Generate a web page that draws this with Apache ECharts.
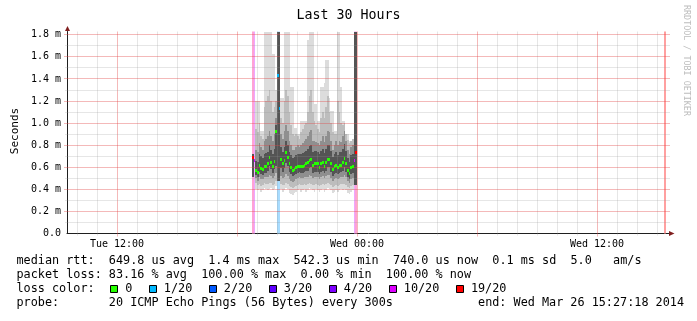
<!DOCTYPE html>
<html><head><meta charset="utf-8">
<script src="https://cdn.jsdelivr.net/npm/echarts@6/dist/echarts.min.js"></script>
<style>html,body{margin:0;padding:0;background:#fff}#c{width:697px;height:321px}</style>
</head><body><div id="c"></div>
<script>
// ---------------- data ----------------
const titleText = 'Last 30 Hours';
const yAxisName = 'Seconds';
const sideText = 'RRDTOOL / TOBI OETIKER';
const xLabelHours = [12, 24, 36];
const xLabelTexts = ['Tue 12:00', 'Wed 00:00', 'Wed 12:00'];
const yTickValues = [0, 0.2, 0.4, 0.6, 0.8, 1.0, 1.2, 1.4, 1.6, 1.8];
const yMinorValues = [0.1, 0.3, 0.5, 0.7, 0.9, 1.1, 1.3, 1.5, 1.7];
const xMajorHours = [12, 18, 24, 30, 36];
const xMinorHours = [10, 11, 13, 14, 15, 16, 17, 19, 20, 21, 22, 23, 25, 26, 27, 28, 29, 31, 32, 33, 34, 35, 37, 38, 39];

// sample end times (minutes since Tue 00:00), 5-minute steps, plus the last (100% loss) sample
const sampleEndMinutes = [];
for (let m = 1130; m <= 1440; m += 5) sampleEndMinutes.push(m);
sampleEndMinutes.push(2366);

// median rtt (ms)
const median = [
 0.69,0.66,0.57,0.55,0.62,0.59,0.58,0.61,0.61,0.63,
 0.69,0.64,0.61,0.65,0.92,1.43,1.13,0.67,0.63,0.66,
 0.73,0.69,0.63,0.60,0.57,0.58,0.60,0.61,0.61,0.61,
 0.61,0.62,0.63,0.64,0.66,0.67,0.62,0.63,0.63,0.63,
 0.60,0.63,0.64,0.61,0.64,0.67,0.67,0.63,0.58,0.61,
 0.62,0.60,0.62,0.62,0.64,0.68,0.63,0.57,0.54,0.60,
 0.61,0.66,0.73, null];
// lost pings out of 20
const loss = [
 19,10,0,0,0,0,0,0,0,0,
 0,0,0,0,0,1,1,0,0,0,
 0,0,0,0,0,0,0,0,0,0,
 0,0,0,0,0,0,0,0,0,0,
 0,0,0,0,0,0,0,0,0,0,
 0,0,0,0,0,0,0,0,0,0,
 0,10,19, 20];
// smoke: ping distribution bands (ms)
const smokeMin = [
 null,null,0.40,0.39,0.40,0.38,0.39,0.41,0.40,0.39,
 0.40,0.41,0.39,0.40,0.43,0.48,0.48,0.40,0.38,0.39,
 0.41,0.40,0.37,0.36,0.35,0.37,0.38,0.39,0.40,0.38,
 0.39,0.40,0.38,0.39,0.41,0.40,0.39,0.38,0.40,0.39,
 0.38,0.39,0.40,0.38,0.39,0.41,0.40,0.39,0.37,0.38,
 0.39,0.38,0.39,0.40,0.39,0.40,0.39,0.37,0.36,0.38,
 0.39,0.44,0.44, null];
const smokeLow2 = [
 null,null,0.46,0.44,0.45,0.43,0.44,0.46,0.45,0.45,
 0.46,0.46,0.44,0.45,0.48,0.48,0.48,0.45,0.44,0.44,
 0.46,0.45,0.43,0.42,0.41,0.42,0.43,0.44,0.45,0.44,
 0.44,0.45,0.44,0.45,0.46,0.45,0.44,0.44,0.45,0.44,
 0.43,0.44,0.45,0.44,0.45,0.46,0.45,0.44,0.42,0.43,
 0.44,0.43,0.44,0.45,0.45,0.45,0.44,0.42,0.41,0.43,
 0.44,0.44,0.44, null];
const smokeLow4 = [
 null,null,0.50,0.48,0.51,0.49,0.49,0.51,0.51,0.51,
 0.53,0.52,0.50,0.52,0.55,0.48,0.48,0.52,0.50,0.51,
 0.54,0.52,0.49,0.48,0.47,0.48,0.49,0.50,0.51,0.50,
 0.50,0.51,0.51,0.51,0.53,0.52,0.50,0.51,0.51,0.51,
 0.49,0.51,0.52,0.50,0.52,0.53,0.53,0.50,0.48,0.49,
 0.50,0.49,0.50,0.51,0.51,0.53,0.51,0.48,0.46,0.49,
 0.50,0.44,0.44, null];
const coreLow = [
 0.51,null,0.53,0.51,0.56,0.54,0.53,0.55,0.55,0.57,
 0.61,0.58,0.55,0.58,0.61,0.48,0.48,0.59,0.56,0.59,
 0.64,0.61,0.56,0.54,0.52,0.53,0.54,0.55,0.56,0.55,
 0.55,0.56,0.57,0.57,0.59,0.60,0.55,0.56,0.56,0.56,
 0.54,0.56,0.57,0.55,0.57,0.60,0.60,0.56,0.52,0.54,
 0.55,0.54,0.55,0.56,0.57,0.60,0.56,0.51,0.49,0.54,
 0.55,0.44,0.44, null];
const coreHigh = [
 0.72,null,0.66,0.65,0.72,0.70,0.68,0.72,0.73,0.74,
 0.80,0.76,0.72,0.77,0.98,2.50,2.50,0.78,0.74,0.78,
 0.84,0.80,0.74,0.71,0.68,0.69,0.71,0.72,0.72,0.72,
 0.73,0.74,0.75,0.77,0.79,0.80,0.74,0.75,0.75,0.74,
 0.72,0.75,0.77,0.73,0.77,0.80,0.80,0.75,0.69,0.72,
 0.74,0.71,0.74,0.74,0.77,0.81,0.75,0.68,0.65,0.71,
 0.72,2.50,2.50, null];
const smokeHigh17 = [
 null,null,0.76,0.74,0.82,0.78,0.76,0.84,0.86,0.88,
 0.93,0.88,0.84,0.90,1.05,2.50,2.50,0.90,0.86,0.93,
 0.98,0.93,0.84,0.80,0.76,0.76,0.78,0.80,0.78,0.80,
 0.82,0.84,0.86,0.88,0.92,0.94,0.84,0.84,0.83,0.82,
 0.80,0.84,0.88,0.83,0.88,0.93,0.92,0.84,0.76,0.80,
 0.84,0.80,0.84,0.83,0.88,0.93,0.84,0.76,0.72,0.78,
 0.80,2.50,2.50, null];
const smokeHigh19 = [
 null,null,0.95,0.92,1.00,0.88,0.86,1.15,1.20,1.25,
 1.30,1.20,1.10,1.15,1.20,2.50,2.50,1.05,1.00,1.20,
 1.30,1.25,1.10,0.98,0.90,0.88,0.90,0.88,0.86,0.92,
 0.95,0.98,1.00,1.10,1.25,1.30,1.10,1.02,0.98,0.95,
 0.92,1.05,1.10,1.05,1.15,1.25,1.10,1.00,0.92,0.90,
 0.90,1.20,1.10,1.00,0.98,1.00,0.90,0.85,0.82,0.84,
 0.86,2.50,2.50, null];
const smokeMax = [
 null,null,1.20,1.20,1.20,0.93,0.93,1.90,1.90,1.90,
 1.90,1.90,1.63,1.63,1.30,2.50,2.50,1.23,1.23,1.90,
 1.90,1.90,1.90,1.33,1.33,0.96,0.96,0.90,0.90,1.02,
 1.02,1.02,1.02,1.75,1.90,1.90,1.90,1.17,1.17,1.02,
 1.02,1.33,1.33,1.36,1.57,1.57,1.23,1.11,1.11,0.93,
 0.93,1.90,1.90,1.33,1.02,1.02,0.90,0.90,0.84,0.84,
 0.84,2.50,2.50, null];

const lossThresholds = [0, 1, 2, 3, 4, 10, 19];
const lossLabels = ['0', '1/20', '2/20', '3/20', '4/20', '10/20', '19/20'];
const lossColors = ['#26ff00', '#00b8ff', '#0059ff', '#5e00ff', '#7e00ff', '#dd00ff', '#ff0000'];

const statLines = [
  'median rtt:  649.8 us avg  1.4 ms max  542.3 us min  740.0 us now  0.1 ms sd  5.0   am/s',
  'packet loss: 83.16 % avg  100.00 % max  0.00 % min  100.00 % now'
];
const lossRowLabel = 'loss color:';
const probeLine = 'probe:       20 ICMP Echo Pings (56 Bytes) every 300s';
const endLine = 'end: Wed Mar 26 15:27:18 2014';

// ---------------- styling / layout ----------------
const MONO = '"DejaVu Sans Mono", "Liberation Mono", monospace';
const X_MIN = 9.5, X_MAX = 39.65, Y_MAX = 1.83;
const STEP_H = 5 / 60;
const lossBgColors = [null, '#a8dcff', '#a8c4ff', '#c0a8ff', '#cca8ff', '#eca8ff', '#ffa2d6'];
const fullLossBg = '#ffa0a0';
const bandColors = ['#dcdcdc', '#bdbdbd', '#8f8f8f', '#545454'];
const MAJOR = 'rgba(226,70,70,0.38)';
const MINOR = 'rgba(150,150,150,0.24)';

const sampleHours = sampleEndMinutes.map(m => m / 60);
function lossIdx(l) { let k = 0; lossThresholds.forEach((t, j) => { if (l >= t) k = j; }); return k; }

const idxData = sampleHours.map((h, i) => [h, i]);

function lossRender(params, api) {
  const i = api.value(1);
  const l = loss[i];
  if (!l) return null;
  const col = l >= 20 ? fullLossBg : lossBgColors[lossIdx(l)];
  const a = api.coord([sampleHours[i] - STEP_H, Y_MAX]);
  const b = api.coord([sampleHours[i], 0]);
  const x0 = Math.round(a[0]), x1 = Math.round(b[0]);
  return { type: 'rect', shape: { x: x0, y: a[1], width: Math.max(1, x1 - x0), height: b[1] - a[1] }, style: { fill: col } };
}
function smokeRender(params, api) {
  const i = api.value(1);
  const bands = [[smokeMin, smokeMax], [smokeLow2, smokeHigh19], [smokeLow4, smokeHigh17], [coreLow, coreHigh]];
  const children = [];
  bands.forEach((bd, k) => {
    const lo = bd[0][i], hi = bd[1][i];
    if (lo == null || hi == null) return;
    const a = api.coord([sampleHours[i] - STEP_H, Math.min(hi, Y_MAX)]);
    const b = api.coord([sampleHours[i], lo]);
    const x0 = Math.round(a[0]), x1 = Math.round(b[0]);
    const y0 = Math.round(a[1]), y1 = Math.round(b[1]);
    children.push({ type: 'rect', shape: { x: x0, y: y0, width: Math.max(1, x1 - x0), height: y1 - y0 }, style: { fill: bandColors[k] } });
  });
  return { type: 'group', children };
}
function medianRender(params, api) {
  const i = api.value(1);
  const v = median[i];
  if (v == null) return null;
  const a = api.coord([sampleHours[i] - STEP_H, v]);
  const b = api.coord([sampleHours[i], v]);
  const x0 = Math.round(a[0]), x1 = Math.round(b[0]);
  return { type: 'rect', shape: { x: x0, y: Math.round(a[1] - 1.5), width: Math.max(1, x1 - x0), height: 3 },
    style: { fill: lossColors[lossIdx(loss[i])] } };
}
const gridData = [].concat(
  xMinorHours.map(h => [h, 0]), xMajorHours.map(h => [h, 1]),
  yMinorValues.map(v => [v, 2]), yTickValues.filter(v => v > 0).map(v => [v, 3]));
function gridRender(params, api) {
  const v = api.value(0), kind = api.value(1);
  const cs = params.coordSys;
  const major = kind === 1 || kind === 3;
  const col = major ? MAJOR : MINOR;
  const ext = major ? 3 : 2;
  if (kind < 2) {
    const x = Math.floor(api.coord([v, 0])[0]) + 0.5;
    return { type: 'line', shape: { x1: x, y1: cs.y, x2: x, y2: cs.y + cs.height + ext }, style: { stroke: col, lineWidth: 1 } };
  }
  const y = Math.floor(api.coord([X_MIN, v])[1]) + 0.5;
  return { type: 'line', shape: { x1: cs.x - ext, y1: y, x2: cs.x + cs.width, y2: y }, style: { stroke: col, lineWidth: 1 } };
}

const chart = echarts.init(document.getElementById('c'), null, { renderer: 'canvas', width: 697, height: 321 });
const option = {
  animation: false,
  backgroundColor: '#ffffff',
  title: { text: titleText, left: 'center', top: 4,
    textStyle: { fontFamily: MONO, fontSize: 13.3, fontWeight: 'normal', color: '#000' } },
  grid: { left: 67, top: 31.5, width: 603, height: 202 },
  xAxis: { type: 'value', min: X_MIN, max: X_MAX,
    splitLine: { show: false }, axisTick: { show: false },
    axisLine: { show: true, lineStyle: { color: '#1f1f1f', width: 1 } },
    axisLabel: { customValues: xLabelHours, margin: 6, fontFamily: MONO, fontSize: 10, color: '#000',
      formatter: v => { const k = xLabelHours.indexOf(v); return k >= 0 ? xLabelTexts[k] : ''; } } },
  yAxis: { type: 'value', min: 0, max: Y_MAX,
    splitLine: { show: false }, axisTick: { show: false },
    axisLine: { show: true, onZero: false, lineStyle: { color: '#1f1f1f', width: 1 } },
    axisLabel: { customValues: yTickValues, margin: 6, fontFamily: MONO, fontSize: 10, color: '#000',
      formatter: v => v === 0 ? '0.0' : v.toFixed(1) + ' m' } },
  series: [
    { type: 'custom', z: 1, silent: true, data: idxData, renderItem: lossRender },
    { type: 'custom', z: 2, silent: true, data: idxData, renderItem: smokeRender },
    { type: 'custom', z: 3, silent: true, data: gridData, renderItem: gridRender },
    { type: 'custom', z: 4, silent: true, data: idxData, renderItem: medianRender }
  ]
};
chart.setOption(option);

// ---- arrows, side texts, legend ----
const pO = chart.convertToPixel({ gridIndex: 0 }, [X_MAX, 0]);
const pT = chart.convertToPixel({ gridIndex: 0 }, [X_MIN, Y_MAX]);
const ARROW = '#801f1f';
const FONT_L = '11.8px ' + MONO;
const CW = 7.1;
const LX = 16.5;
const rows = [261, 275, 289, 303];
const graphic = [
  { type: 'polygon', shape: { points: [[pO[0] - 1, pO[1] - 2.5], [pO[0] + 4.5, pO[1]], [pO[0] - 1, pO[1] + 2.5]] }, style: { fill: ARROW }, z: 10 },
  { type: 'polygon', shape: { points: [[pT[0] - 2, pT[1] - 0.5], [pT[0] + 0.5, pT[1] - 5.5], [pT[0] + 3, pT[1] - 0.5]] }, style: { fill: ARROW }, z: 10 },
  { type: 'text', x: 15, y: 131, rotation: Math.PI / 2,
    style: { text: yAxisName, x: 0, y: 0, align: 'center', verticalAlign: 'middle', font: '11px ' + MONO, fill: '#000' } },
  { type: 'text', x: 686.5, y: 5, rotation: -Math.PI / 2,
    style: { text: sideText, x: 0, y: 0, align: 'left', verticalAlign: 'middle', font: '8.4px ' + MONO, fill: '#bdbdbd' } }
];
statLines.forEach((s, k) => graphic.push({ type: 'text', x: LX, y: rows[k],
  style: { text: s, align: 'left', verticalAlign: 'middle', font: FONT_L, fill: '#000' } }));
graphic.push({ type: 'text', x: LX, y: rows[2], style: { text: lossRowLabel, align: 'left', verticalAlign: 'middle', font: FONT_L, fill: '#000' } });
let cur = LX + 13.2 * CW;
lossLabels.forEach((lab, k) => {
  const bx = Math.round(cur) + 0.5;
  graphic.push({ type: 'rect', shape: { x: bx, y: rows[2] - 3.5, width: 7, height: 7 }, style: { fill: lossColors[k], stroke: '#000', lineWidth: 1 } });
  const tx = cur + 2.1 * CW;
  graphic.push({ type: 'text', x: tx, y: rows[2], style: { text: lab, align: 'left', verticalAlign: 'middle', font: FONT_L, fill: '#000' } });
  cur = tx + lab.length * CW + 2.35 * CW;
});
graphic.push({ type: 'text', x: LX, y: rows[3], style: { text: probeLine, align: 'left', verticalAlign: 'middle', font: FONT_L, fill: '#000' } });
graphic.push({ type: 'text', x: 684, y: rows[3], style: { text: endLine, align: 'right', verticalAlign: 'middle', font: FONT_L, fill: '#000' } });
chart.setOption({ graphic });
</script>
</body></html>
